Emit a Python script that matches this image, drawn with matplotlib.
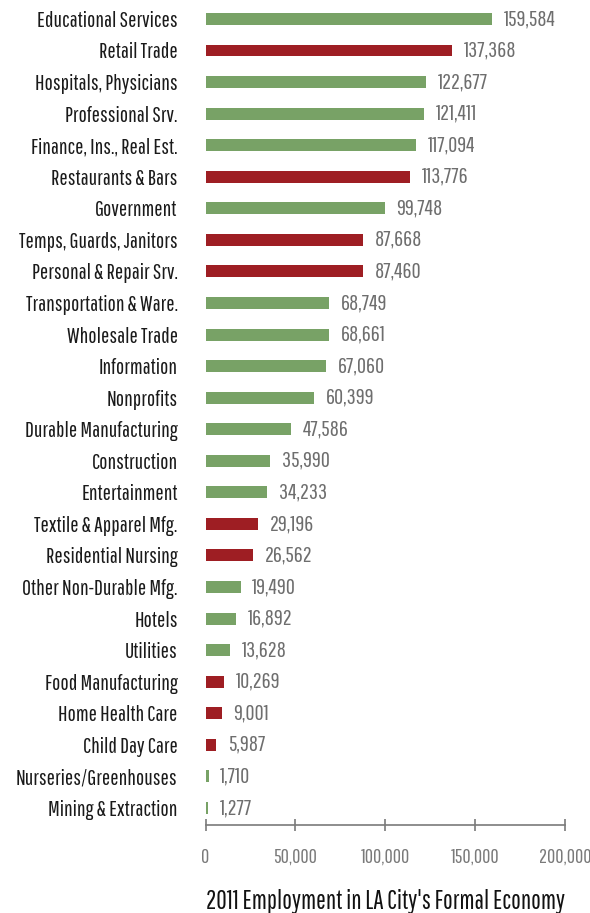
import matplotlib
matplotlib.use("Agg")
import matplotlib.pyplot as plt
from matplotlib.ticker import FuncFormatter

plt.rcParams['font.family'] = ["Pathway Gothic One", "DejaVu Sans"]

categories = ["Educational Services", "Retail Trade", "Hospitals, Physicians",
              "Professional Srv.", "Finance, Ins., Real Est.", "Restaurants & Bars",
              "Government", "Temps, Guards, Janitors", "Personal & Repair Srv.",
              "Transportation & Ware.", "Wholesale Trade", "Information", "Nonprofits",
              "Durable Manufacturing", "Construction", "Entertainment",
              "Textile & Apparel Mfg.", "Residential Nursing", "Other Non-Durable Mfg.",
              "Hotels", "Utilities", "Food Manufacturing", "Home Health Care",
              "Child Day Care", "Nurseries/Greenhouses", "Mining & Extraction"]
values = [159584, 137368, 122677, 121411, 117094, 113776, 99748, 87668, 87460,
          68749, 68661, 67060, 60399, 47586, 35990, 34233, 29196, 26562, 19490,
          16892, 13628, 10269, 9001, 5987, 1710, 1277]
highlighted = ["Retail Trade", "Restaurants & Bars", "Temps, Guards, Janitors",
               "Personal & Repair Srv.", "Textile & Apparel Mfg.", "Residential Nursing",
               "Food Manufacturing", "Home Health Care", "Child Day Care"]
x_ticks = [0, 50000, 100000, 150000, 200000]
x_title = "2011 Employment in LA City's Formal Economy"

GREEN = "#78a266"
RED = "#9e1e23"

W, H = 590, 913
fig = plt.figure(figsize=(W / 100, H / 100), dpi=100)
ax = fig.add_axes([205.5 / W, (H - 825) / H, (565 - 205.5) / W, 825 / H])

n = len(categories)
ypos = [n - 1 - i for i in range(n)]
colors = [RED if c in highlighted else GREEN for c in categories]
ax.barh(ypos, values, height=0.38, color=colors)

for y, v in zip(ypos, values):
    ax.annotate(f"{v:,}", (v, y), xytext=(8.5, 0), textcoords="offset points",
                va="center", ha="left", fontsize=16, color="#6e6e6e")

ax.set_xlim(0, 200000)
ax.set_ylim(-0.54, n - 1 + 0.6)
ax.set_yticks(ypos)
ax.set_yticklabels(categories, fontsize=15.7, color="#1a1a1a")
ax.tick_params(axis="y", length=0, pad=20)
ax.set_xticks(x_ticks)
ax.xaxis.set_major_formatter(FuncFormatter(lambda v, p: f"{int(v):,}"))
ax.tick_params(axis="x", direction="inout", length=9, width=1.2, color="#7a7a7a",
               labelsize=14.5, labelcolor="#7a7a7a", pad=12)
for s in ["top", "right", "left"]:
    ax.spines[s].set_visible(False)
ax.spines["bottom"].set_color("#7a7a7a")
ax.spines["bottom"].set_linewidth(1.2)
ax.set_xlabel(x_title, fontsize=18.5, color="#111111")
ax.xaxis.set_label_coords(0.5, -0.0776)
ax.xaxis.label.set_va("top")

fig.savefig("out.png", dpi=100)
